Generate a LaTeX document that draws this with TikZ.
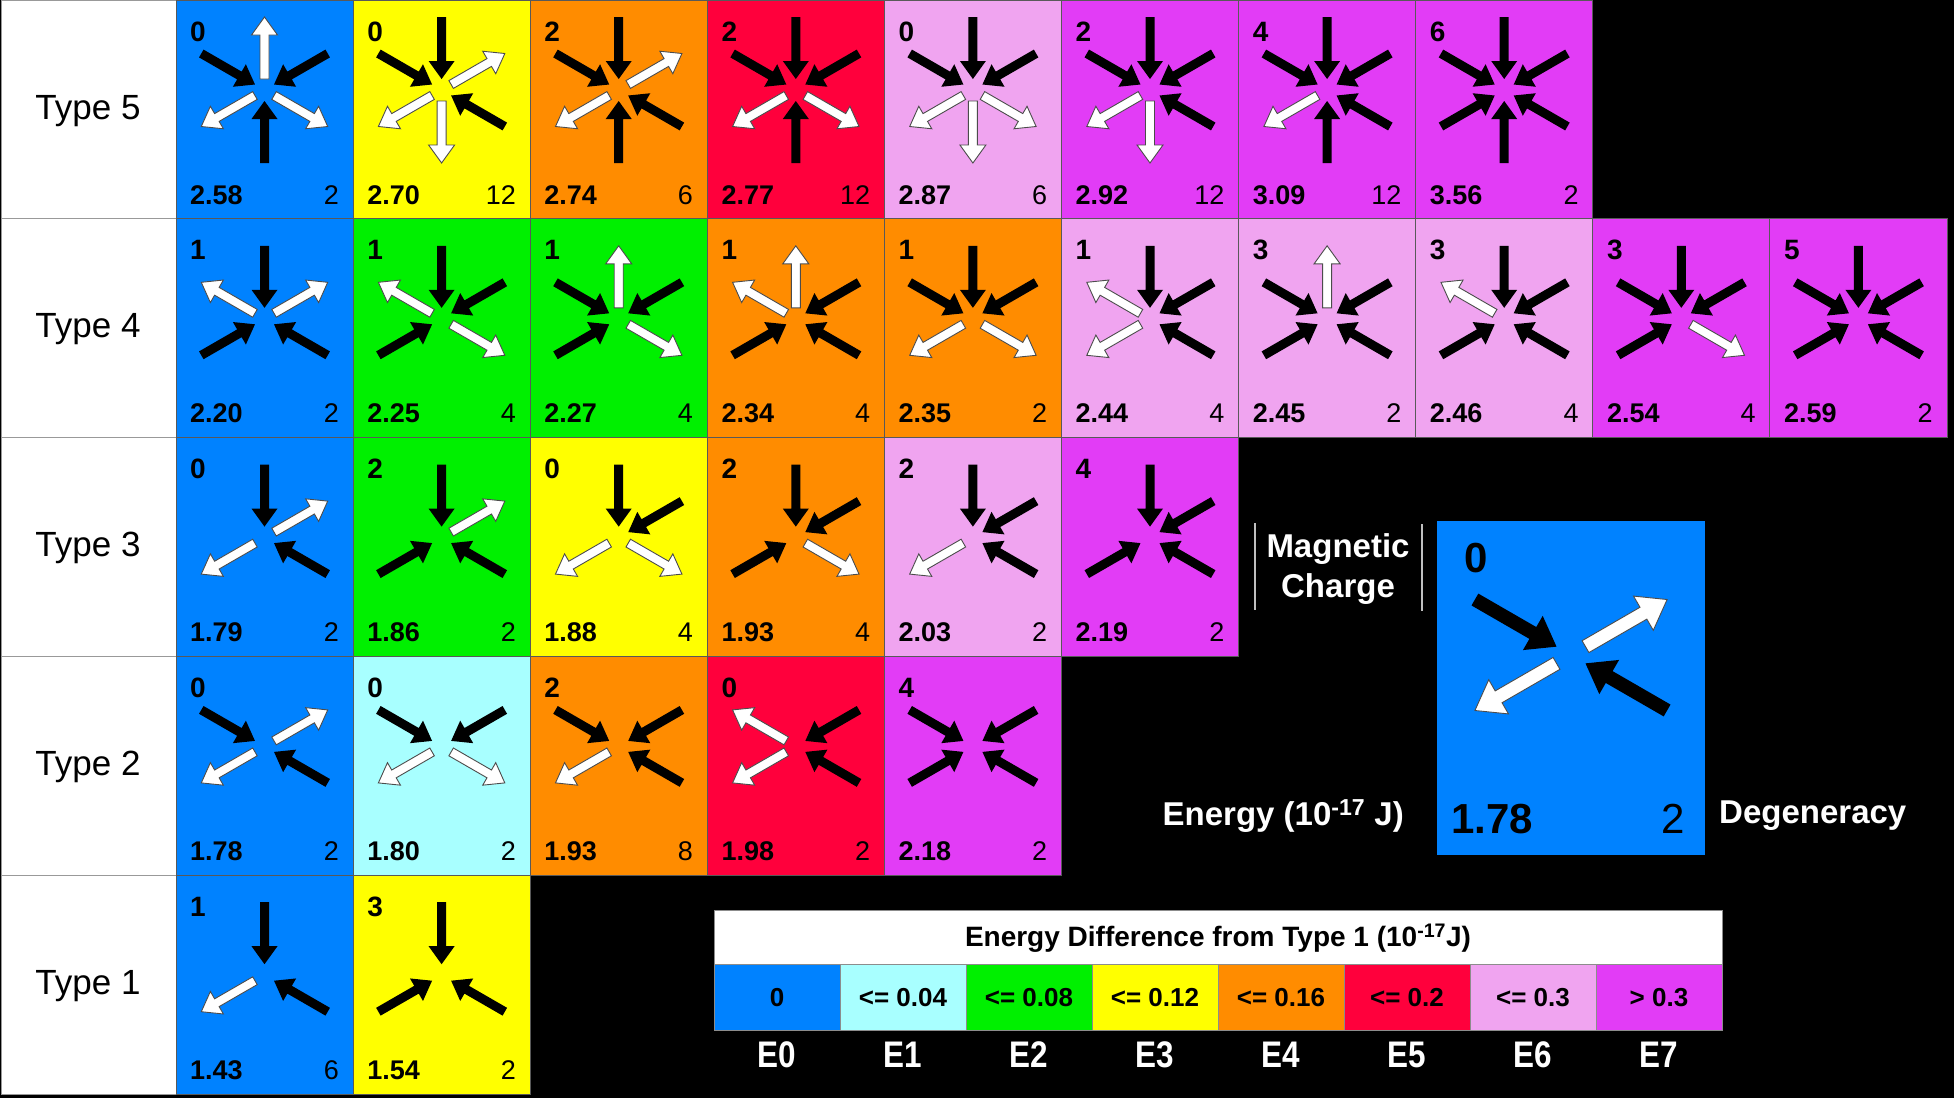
\documentclass[tikz,border=0pt]{standalone}
\usepackage{fontspec}
\setmainfont{Liberation Sans}
\newfontfamily\narrowfont[FakeStretch=0.85]{Liberation Sans}
\newcommand\fs[1]{\fontsize{#1}{#1}\selectfont}
\definecolor{E0}{HTML}{0082FF}
\definecolor{E1}{HTML}{A8FFFF}
\definecolor{E2}{HTML}{00F000}
\definecolor{E3}{HTML}{FFFF00}
\definecolor{E4}{HTML}{FF8C00}
\definecolor{E5}{HTML}{FF003C}
\definecolor{E6}{HTML}{F0A4F0}
\definecolor{E7}{HTML}{E23CF6}
\newcommand\spI[1]{\fill[black,rotate=#1] (73,-4.5) -- (29,-4.5) -- (29,-13) -- (11,0) -- (29,13) -- (29,4.5) -- (73,4.5) -- cycle;}
\newcommand\spO[1]{\filldraw[fill=white,draw=black!70,line width=0.9pt,rotate=#1] (11,-4.5) -- (55,-4.5) -- (55,-13) -- (73,0) -- (55,13) -- (55,4.5) -- (11,4.5) -- cycle;}
% #1 name #2 x0 #3 y0 #4 colour #5 charge #6 energy #7 degeneracy #8 centre offset #9 spokes
\newcommand\cell[9]{%
  \fill[#4] (#2,#3) rectangle ++(177.1,218.8);
  \draw[cellline] (#2,#3) rectangle ++(177.1,218.8);
  \begin{scope}[shift={(#2+88.5,#3+#8)}]
    \foreach \spa/\spk in {#9}{\csname sp\spk\endcsname{\spa}}
  \end{scope}
  \node[chg] (#1q) at (#2+14,#3+41) {#5};
  \node[nrg] (#1e) at (#2+14,#3+204) {#6};
  \node[dgn] (#1d) at (#2+163,#3+204) {#7};
}
\tikzset{
  cellline/.style={draw=black!65,line width=1pt},
  chg/.style={font={\bfseries\fs{28}},inner sep=0pt,anchor=base west},
  nrg/.style={font={\bfseries\fs{27}},inner sep=0pt,anchor=base west},
  dgn/.style={font={\fs{27}},inner sep=0pt,anchor=base east},
  typelab/.style={font={\fs{35}},inner sep=0pt,anchor=base},
  wlab/.style={font={\bfseries\fs{33}},text=white,inner sep=0pt},
  legbox/.style={draw=black!45,line width=0.8pt},
  legval/.style={font={\bfseries\fs{26}},inner sep=0pt},
  elab/.style={font={\narrowfont\bfseries\fs{37}},text=white,inner sep=0pt},
}
\begin{document}
\begin{tikzpicture}[x=1pt,y=-1pt]
\useasboundingbox (0,0) rectangle (1954,1098);
\fill[black] (0,0) rectangle (1954,1098);
% type column
\foreach \r/\lab in {0/5,1/4,2/3,3/2,4/1}{
  \filldraw[fill=white,draw=black!40,line width=1pt] (1,{\r*218.8}) rectangle (176,{\r*218.8+218.8});
  \node[typelab] (type\lab) at (88,{\r*218.8+119}) {Type \lab};
}
% Type 5
\cell{a1}{176}{0}{E0}{0}{2.58}{2}{90}{90/O,150/I,30/I,210/O,-30/O,-90/I}
\cell{a2}{353.1}{0}{E3}{0}{2.70}{12}{90}{90/I,150/I,30/O,210/O,-90/O,-30/I}
\cell{a3}{530.2}{0}{E4}{2}{2.74}{6}{90}{90/I,150/I,30/O,210/O,-90/I,-30/I}
\cell{a4}{707.3}{0}{E5}{2}{2.77}{12}{90}{90/I,150/I,30/I,210/O,-30/O,-90/I}
\cell{a5}{884.4}{0}{E6}{0}{2.87}{6}{90}{90/I,150/I,30/I,210/O,-90/O,-30/O}
\cell{a6}{1061.5}{0}{E7}{2}{2.92}{12}{90}{90/I,150/I,30/I,210/O,-90/O,-30/I}
\cell{a7}{1238.6}{0}{E7}{4}{3.09}{12}{90}{90/I,150/I,30/I,210/O,-90/I,-30/I}
\cell{a8}{1415.7}{0}{E7}{6}{3.56}{2}{90}{90/I,150/I,30/I,210/I,-90/I,-30/I}
% Type 4
\cell{b1}{176}{218.8}{E0}{1}{2.20}{2}{100}{90/I,150/O,30/O,210/I,-30/I}
\cell{b2}{353.1}{218.8}{E2}{1}{2.25}{4}{100}{90/I,150/O,30/I,210/I,-30/O}
\cell{b3}{530.2}{218.8}{E2}{1}{2.27}{4}{100}{90/O,150/I,30/I,210/I,-30/O}
\cell{b4}{707.3}{218.8}{E4}{1}{2.34}{4}{100}{90/O,150/O,30/I,210/I,-30/I}
\cell{b5}{884.4}{218.8}{E4}{1}{2.35}{2}{100}{90/I,150/I,30/I,210/O,-30/O}
\cell{b6}{1061.5}{218.8}{E6}{1}{2.44}{4}{100}{90/I,150/O,30/I,210/O,-30/I}
\cell{b7}{1238.6}{218.8}{E6}{3}{2.45}{2}{100}{90/O,150/I,30/I,210/I,-30/I}
\cell{b8}{1415.7}{218.8}{E6}{3}{2.46}{4}{100}{90/I,150/O,30/I,210/I,-30/I}
\cell{b9}{1592.8}{218.8}{E7}{3}{2.54}{4}{100}{90/I,150/I,30/I,210/I,-30/O}
\cell{b10}{1769.9}{218.8}{E7}{5}{2.59}{2}{100}{90/I,150/I,30/I,210/I,-30/I}
% Type 3
\cell{c1}{176}{437.6}{E0}{0}{1.79}{2}{100}{90/I,30/O,210/O,-30/I}
\cell{c2}{353.1}{437.6}{E2}{2}{1.86}{2}{100}{90/I,30/O,210/I,-30/I}
\cell{c3}{530.2}{437.6}{E3}{0}{1.88}{4}{100}{90/I,30/I,210/O,-30/O}
\cell{c4}{707.3}{437.6}{E4}{2}{1.93}{4}{100}{90/I,30/I,210/I,-30/O}
\cell{c5}{884.4}{437.6}{E6}{2}{2.03}{2}{100}{90/I,30/I,210/O,-30/I}
\cell{c6}{1061.5}{437.6}{E7}{4}{2.19}{2}{100}{90/I,30/I,210/I,-30/I}
% Type 2
\cell{d1}{176}{656.4}{E0}{0}{1.78}{2}{90}{150/I,30/O,210/O,-30/I}
\cell{d2}{353.1}{656.4}{E1}{0}{1.80}{2}{90}{150/I,30/I,210/O,-30/O}
\cell{d3}{530.2}{656.4}{E4}{2}{1.93}{8}{90}{150/I,30/I,210/O,-30/I}
\cell{d4}{707.3}{656.4}{E5}{0}{1.98}{2}{90}{150/O,30/I,210/O,-30/I}
\cell{d5}{884.4}{656.4}{E7}{4}{2.18}{2}{90}{150/I,30/I,210/I,-30/I}
% Type 1
\cell{e1}{176}{875.2}{E0}{1}{1.43}{6}{100}{90/I,210/O,-30/I}
\cell{e2}{353.1}{875.2}{E3}{3}{1.54}{2}{100}{90/I,210/I,-30/I}
% key example
\fill[E0] (1437,521) rectangle (1705,855);
\begin{scope}[shift={(1571,655)},scale=1.52]
  \spI{150}\spO{30}\spO{210}\spI{-30}
\end{scope}
\node[font={\bfseries\fs{42}},inner sep=0pt,anchor=base west] (keyq) at (1464,572) {0};
\node[font={\bfseries\fs{42}},inner sep=0pt,anchor=base west] (keye) at (1451,833) {1.78};
\node[font={\fs{42}},inner sep=0pt,anchor=base east] (keyd) at (1685,833) {2};
\draw[black!25,line width=2pt] (1255,523) -- (1255,610);
\draw[black!25,line width=2pt] (1422,524) -- (1422,611);
\node[wlab,anchor=base] (mag1) at (1338,557) {Magnetic};
\node[wlab,anchor=base] (mag2) at (1338,597) {Charge};
\node[wlab,anchor=base east] (enlab) at (1404,825) {Energy (10\textsuperscript{-17} J)};
\node[wlab,anchor=base west] (deglab) at (1719,823) {Degeneracy};
% legend
\filldraw[fill=white,draw=black!45,line width=0.8pt] (714,910) rectangle (1722,964);
\node[font={\bfseries\fs{28}},inner sep=0pt] (legtitle) at (1218,938) {Energy Difference from Type 1 (10\textsuperscript{-17}J)};
\foreach \i/\c/\v in {0/E0/0,1/E1/{<= 0.04},2/E2/{<= 0.08},3/E3/{<= 0.12},4/E4/{<= 0.16},5/E5/{<= 0.2},6/E6/{<= 0.3},7/E7/{> 0.3}}{
  \filldraw[fill=\c,legbox] ({714+126*\i},964) rectangle ({840+126*\i},1030);
  \node[legval] (lv\i) at ({777+126*\i},998) {\v};
  \node[elab] (le\i) at ({777+126*\i},1055) {E\i};
}
\end{tikzpicture}
\end{document}
